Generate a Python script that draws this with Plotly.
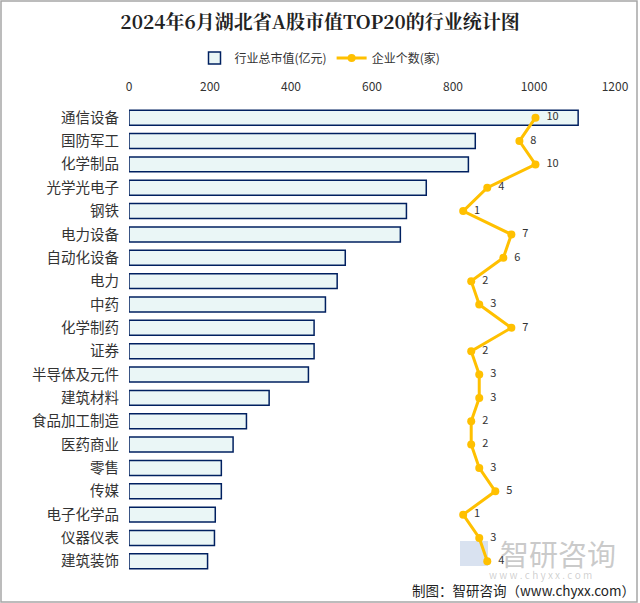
import plotly.graph_objects as go

categories = ["通信设备", "国防军工", "化学制品", "光学光电子", "钢铁", "电力设备", "自动化设备", "电力", "中药", "化学制药",
              "证券", "半导体及元件", "建筑材料", "食品加工制造", "医药商业", "零售", "传媒", "电子化学品", "仪器仪表", "建筑装饰"]
market_value = [1109, 855, 838, 734, 685, 670, 534, 514, 485, 457,
                457, 443, 346, 290, 257, 228, 228, 213, 211, 194]
company_count = [10, 8, 10, 4, 1, 7, 6, 2, 3, 7, 2, 3, 3, 2, 2, 3, 5, 1, 3, 4]
x_ticks = [0, 200, 400, 600, 800, 1000, 1200]

W, H = 640, 603
L, R, T, B = 129, 25, 106, 30
pw, ph = W - L - R, H - T - B

def px_x(p):
    return (p - L) / pw

def px_y(p):
    return 1 - (p - T) / ph

FONT = "Noto Sans CJK SC, Noto Sans, sans-serif"

fig = go.Figure()
fig.add_trace(go.Bar(
    y=categories, x=market_value, orientation="h", name="行业总市值(亿元)",
    marker=dict(color="#EAF6F6", line=dict(color="#002060", width=1.5)),
    xaxis="x", yaxis="y",
))
fig.add_trace(go.Scatter(
    y=categories, x=company_count, name="企业个数(家)", mode="lines+markers+text",
    line=dict(color="#FFC000", width=3), marker=dict(color="#FFC000", size=8),
    text=["  " + str(v) for v in company_count], textposition="middle right",
    textfont=dict(size=11, color="#333333", family=FONT),
    xaxis="x2", yaxis="y", cliponaxis=False,
))

fig.update_layout(
    width=W, height=H, margin=dict(l=L, r=R, t=T, b=B, autoexpand=False),
    paper_bgcolor="white", plot_bgcolor="white",
    font=dict(family=FONT, color="#333333"),
    bargap=0.36, showlegend=True,
    title=dict(text="<b>2024年6月湖北省A股市值TOP20的行业统计图</b>", x=0.5, xanchor="center",
               y=1 - 22 / H, yanchor="middle", font=dict(size=19, color="#222222", family="Noto Serif CJK SC, Noto Sans CJK SC, serif")),
    legend=dict(orientation="h", x=px_x(320), xanchor="center", y=px_y(58), yanchor="middle",
                font=dict(size=12, color="#333333"), bgcolor="rgba(0,0,0,0)", itemwidth=30),
    xaxis=dict(side="top", range=[0, 1200], tickvals=x_ticks, ticktext=[str(v) for v in x_ticks],
               showgrid=False, zeroline=False, showline=False, ticks="outside", ticklen=9,
               tickcolor="rgba(0,0,0,0)", automargin=False,
               tickfont=dict(size=12, color="#333333")),
    xaxis2=dict(overlaying="x", range=[-40.6, 19.9], visible=False),
    yaxis=dict(range=[len(categories) - 0.5, -0.5], showgrid=False, showline=False, ticks="outside", ticklen=6,
               tickcolor="rgba(0,0,0,0)", automargin=False, tickfont=dict(size=14.5, color="#333333")),
)

# outer frame
fig.add_shape(type="rect", xref="paper", yref="paper",
              x0=px_x(1), x1=px_x(637), y0=px_y(602), y1=px_y(1),
              line=dict(color="#A6A6A6", width=1.5), fillcolor="rgba(0,0,0,0)", layer="below")

# watermark
fig.add_shape(type="rect", xref="paper", yref="paper", x0=px_x(460), x1=px_x(488), y0=px_y(566), y1=px_y(541),
              line=dict(width=0), fillcolor="rgba(120,150,200,0.28)", layer="below")
fig.add_annotation(xref="paper", yref="paper", x=px_x(558), y=px_y(553), xanchor="center", yanchor="middle",
                   text="智研咨询", showarrow=False, font=dict(size=29, color="rgba(150,150,150,0.5)"))
fig.add_annotation(xref="paper", yref="paper", x=px_x(540), y=px_y(574), xanchor="center", yanchor="middle",
                   text="w w w . c h y x x . c o m", showarrow=False,
                   font=dict(size=10, color="rgba(150,150,150,0.45)"))
fig.add_annotation(xref="paper", yref="paper", x=px_x(637), y=px_y(590), xanchor="right", yanchor="middle",
                   text="制图：智研咨询（www.chyxx.com）", showarrow=False,
                   font=dict(size=13.5, color="#222222"))

fig.write_html("out.html", post_script="document.body.style.margin='0';",
               config={"displayModeBar": False})
